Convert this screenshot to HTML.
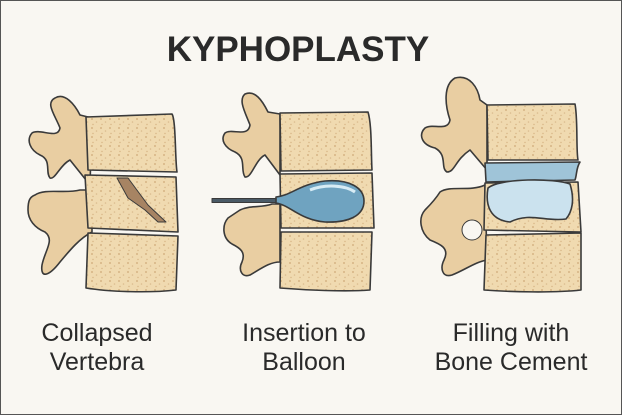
<!DOCTYPE html>
<html><head><style>
html,body{margin:0;padding:0;background:#fff}
svg{display:block}
text{font-family:"Liberation Sans",sans-serif;fill:#2a2a2a}
</style></head><body>
<svg width="622" height="415" viewBox="0 0 622 415" xmlns="http://www.w3.org/2000/svg">
<defs>
<pattern id="p" width="9" height="9" patternUnits="userSpaceOnUse">
<rect width="9" height="9" fill="#f0dab0"/>
<circle cx="2" cy="2" r="1" fill="#d6b484"/><circle cx="6.5" cy="5" r="0.8" fill="#dabb8e"/><circle cx="3" cy="7.5" r="0.7" fill="#d6b484"/>
</pattern>
</defs>
<rect x="0.5" y="0.5" width="621" height="414" fill="#f9f7f2" stroke="#555" stroke-width="1"/>
<text x="298" y="61" font-size="35" font-weight="bold" text-anchor="middle" fill="#2b2b2b">KYPHOPLASTY</text>

<g stroke="#3a3a3a" stroke-width="1.6" stroke-linejoin="round">
<!-- Panel 1 -->
<path d="M55,98 C65,92 75,105 80,115 L92,118 L90,185 L70,160 C60,165 55,180 50,178 C45,172 52,160 40,155 C30,150 26,140 32,133 C40,128 58,140 60,128 C55,115 45,103 55,98 Z" fill="#e9cea2"/>
<path d="M35,195 C45,188 65,194 80,190 L92,190 L92,232 C80,238 70,250 60,262 C50,275 40,280 42,265 C45,250 55,240 45,232 C35,228 28,220 28,210 C28,200 30,197 35,195 Z" fill="#e9cea2"/>
<path d="M86,117 L172,114 C176,120 175,160 177,172 L88,170 Z" fill="url(#p)"/>
<path d="M85,175 L176,177 L178,232 L88,228 Z" fill="url(#p)"/>
<path d="M88,233 L178,236 L176,290 C150,293 110,292 86,288 Z" fill="url(#p)"/>
<path d="M117,178 L128,178 L148,205 L166,222 L158,222 L145,210 L128,198 Z" fill="#a78463" stroke-width="1"/>

<!-- Panel 2 -->
<path d="M245,94 C255,90 262,100 268,112 L280,114 L280,175 L265,155 C255,160 252,178 245,177 C240,170 247,158 235,152 C225,148 220,140 225,133 C232,128 248,138 250,125 C245,112 238,100 245,94 Z" fill="#e9cea2"/>
<path d="M240,210 C250,205 262,208 272,204 L280,204 L280,262 C270,262 262,268 250,275 C242,278 238,270 242,262 C246,252 240,248 232,244 C222,238 222,225 228,218 Z" fill="#e9cea2"/>
<path d="M280,113 L368,112 C372,125 371,155 372,170 L281,171 Z" fill="url(#p)"/>
<path d="M280,174 L372,173 L374,228 L281,228 Z" fill="url(#p)"/>
<path d="M281,232 L372,232 L370,290 C345,292 305,290 280,288 Z" fill="url(#p)"/>
<rect x="212" y="198.5" width="66" height="4" fill="#4a5a66" stroke-width="1"/>
<path d="M276,197 C290,196 300,184 325,181 C350,179 364,188 364,201 C364,216 348,223 325,222 C300,220 290,205 276,203 Z" fill="#6fa3c0"/>
<path d="M310,190 C325,184 345,185 355,192" fill="none" stroke="#d8ecf5" stroke-width="3"/>

<!-- Panel 3 -->
<path d="M455,78 C470,74 478,88 480,100 L487,105 L487,170 L470,150 C455,160 455,172 447,172 C440,168 448,155 435,148 C422,145 418,135 425,128 C432,123 448,132 450,120 C445,105 443,85 455,78 Z" fill="#e9cea2"/>
<path d="M440,192 C450,185 470,192 485,185 L487,260 C475,262 465,270 452,275 C442,278 440,268 444,260 C450,248 440,244 430,240 C420,232 418,218 425,210 C430,205 435,200 440,192 Z" fill="#e9cea2"/>
<circle cx="472" cy="230" r="10" fill="#f9f7f2" stroke-width="1"/>
<path d="M487,105 L575,104 C578,120 576,150 578,160 L488,160 Z" fill="url(#p)"/>
<path d="M485,163 L580,162 C576,168 577,175 575,180 L486,182 Z" fill="#9fc4d8"/>
<path d="M485,183 L578,182 L581,232 L484,230 Z" fill="url(#p)"/>
<path d="M488,188 C500,178 555,178 570,184 C575,200 572,212 566,219 C545,222 530,212 510,222 C490,220 485,205 488,188 Z" fill="#cbe2ee"/>
<path d="M486,235 L581,233 L581,290 C555,293 510,292 484,290 Z" fill="url(#p)"/>
</g>

<g font-size="25" text-anchor="middle">
<text x="97" y="341">Collapsed</text>
<text x="97" y="370">Vertebra</text>
<text x="304" y="341">Insertion to</text>
<text x="304" y="370">Balloon</text>
<text x="511" y="341">Filling with</text>
<text x="511" y="370">Bone Cement</text>
</g>
</svg>
</body></html>
